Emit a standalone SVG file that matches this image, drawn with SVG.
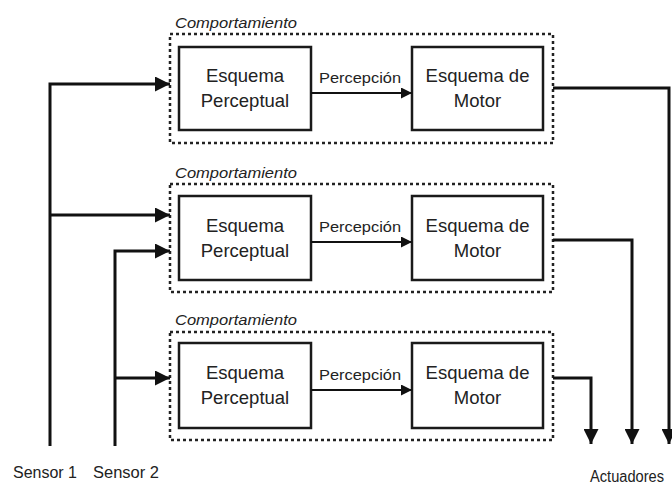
<svg xmlns="http://www.w3.org/2000/svg" width="672" height="486" viewBox="0 0 672 486">
<style>
.grp{fill:none;stroke:#222;stroke-width:2.5;stroke-dasharray:3 3}
.box{fill:#fff;stroke:#1a1a1a;stroke-width:2.5}
.t{font-family:"Liberation Sans",Arial,sans-serif;fill:#222}
.big{font-size:18.5px;text-anchor:middle}
.lab{font-size:15px;font-style:italic}
.per{font-size:15px}
.sen{font-size:16px}
.c{fill:none;stroke:#111;stroke-width:3}
.p{fill:none;stroke:#111;stroke-width:2}
</style>
<defs>
<marker id="ah" viewBox="0 0 10 10" refX="10" refY="5" markerWidth="5" markerHeight="5" markerUnits="strokeWidth" orient="auto">
<path d="M0,0 L10,5 L0,10 z" fill="#111"/>
</marker>
<marker id="ap" viewBox="0 0 10 10" refX="10" refY="5" markerWidth="5.5" markerHeight="5.5" markerUnits="strokeWidth" orient="auto">
<path d="M0,0 L10,5 L0,10 z" fill="#111"/>
</marker>
</defs>
<rect width="672" height="486" fill="#fff"/>

<g id="behavior1">
<text class="t lab" x="175" y="28" textLength="122" lengthAdjust="spacingAndGlyphs">Comportamiento</text>
<rect class="grp" x="170" y="34" width="383" height="109"/>
<g id="perceptual1"><rect class="box" x="179" y="47" width="132" height="83"/>
<text class="t big" x="245" y="82">Esquema</text><text class="t big" x="245" y="107">Perceptual</text></g>
<g id="motor1"><rect class="box" x="412" y="47" width="131" height="83"/>
<text class="t big" x="477.5" y="82">Esquema de</text><text class="t big" x="477.5" y="107">Motor</text></g>
</g>

<g id="behavior2">
<text class="t lab" x="175" y="178" textLength="122" lengthAdjust="spacingAndGlyphs">Comportamiento</text>
<rect class="grp" x="170" y="184" width="383" height="108"/>
<g id="perceptual2"><rect class="box" x="179" y="196" width="132" height="84"/>
<text class="t big" x="245" y="232">Esquema</text><text class="t big" x="245" y="257">Perceptual</text></g>
<g id="motor2"><rect class="box" x="412" y="196" width="131" height="84"/>
<text class="t big" x="477.5" y="232">Esquema de</text><text class="t big" x="477.5" y="257">Motor</text></g>
</g>

<g id="behavior3">
<text class="t lab" x="175" y="325" textLength="122" lengthAdjust="spacingAndGlyphs">Comportamiento</text>
<rect class="grp" x="170" y="332" width="383" height="108"/>
<g id="perceptual3"><rect class="box" x="179" y="343" width="132" height="85"/>
<text class="t big" x="245" y="379">Esquema</text><text class="t big" x="245" y="404">Perceptual</text></g>
<g id="motor3"><rect class="box" x="412" y="343" width="131" height="85"/>
<text class="t big" x="477.5" y="379">Esquema de</text><text class="t big" x="477.5" y="404">Motor</text></g>
</g>

<g id="connectors">
<path class="c" d="M50,446 V84 H170" marker-end="url(#ah)"/>
<path class="c" d="M50,215 H170" marker-end="url(#ah)"/>
<path class="c" d="M115,446 V251 H170" marker-end="url(#ah)"/>
<path class="c" d="M115,378 H170" marker-end="url(#ah)"/>
<path class="p" d="M311,93 H412" marker-end="url(#ap)"/>
<path class="p" d="M311,242 H412" marker-end="url(#ap)"/>
<path class="p" d="M311,390 H412" marker-end="url(#ap)"/>
<text class="t per" x="319" y="83" textLength="82" lengthAdjust="spacingAndGlyphs">Percepción</text>
<text class="t per" x="319" y="232" textLength="82" lengthAdjust="spacingAndGlyphs">Percepción</text>
<text class="t per" x="319" y="380" textLength="82" lengthAdjust="spacingAndGlyphs">Percepción</text>
<path class="c" d="M553,88 H669 V444" marker-end="url(#ah)"/>
<path class="c" d="M553,240 H632 V444" marker-end="url(#ah)"/>
<path class="c" d="M553,378 H591 V444" marker-end="url(#ah)"/>
</g>

<g id="labels">
<text class="t sen" x="13" y="478" textLength="64" lengthAdjust="spacingAndGlyphs">Sensor 1</text>
<text class="t sen" x="93" y="478" textLength="66" lengthAdjust="spacingAndGlyphs">Sensor 2</text>
<text class="t sen" x="590" y="482" textLength="74" lengthAdjust="spacingAndGlyphs">Actuadores</text>
</g>
</svg>
